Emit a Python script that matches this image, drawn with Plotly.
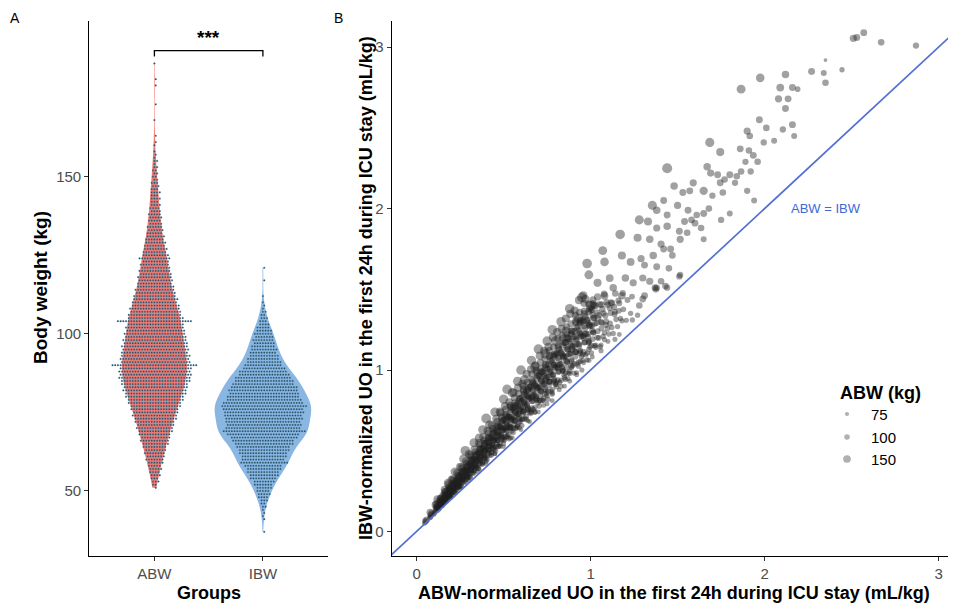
import math
import numpy as np
import plotly.graph_objects as go

# ---------------- Panel A data: body weight counts per 1-kg bin ----------------
abw_weight = list(range(51, 159)) + [160, 161, 163, 168, 173, 179, 181, 186]
abw_count = [
    1, 2, 3, 3, 4, 4, 5, 5, 6, 7,            # 51-60
    7, 8, 8, 9, 10, 11, 11, 12, 13, 14,      # 61-70
    14, 15, 16, 17, 17, 18, 19, 20, 21, 22,  # 71-80
    23, 24, 24, 25, 26, 27, 27, 27, 27, 32,  # 81-90
    26, 26, 26, 25, 25, 25, 24, 24, 23, 23,  # 91-100
    22, 22, 21, 28, 21, 20, 19, 19, 18, 17,  # 101-110
    17, 16, 15, 15, 14, 13, 13, 13, 12, 12,  # 111-120
    11, 11, 10, 12, 10, 9, 9, 8, 8, 7,       # 121-130
    7, 6, 6, 6, 5, 5, 5, 5, 4, 4,            # 131-140
    4, 3, 4, 3, 4, 3, 3, 3, 2, 2,            # 141-150
    2, 2, 2, 1, 2, 1, 1, 1,                  # 151-158
    1, 1, 1, 1, 1, 1, 1, 1,                  # tail
]
ibw_weight = [37] + list(range(41, 111)) + [112, 117, 121]
ibw_count = [
    1,
    1, 1, 1, 1, 2, 2, 3, 4, 5, 5,            # 41-50
    6, 7, 8, 10, 11, 12, 13, 14, 18, 16,     # 51-60
    17, 18, 19, 20, 22, 23, 25, 27, 31, 28,  # 61-70
    28, 28, 29, 29, 30, 30, 32, 30, 28, 27,  # 71-80
    26, 26, 25, 23, 22, 21, 19, 18, 16, 14,  # 81-90
    13, 12, 11, 10, 10, 9, 8, 8, 7, 7,       # 91-100
    6, 5, 4, 3, 3, 2, 2, 1, 1, 1,            # 101-110
    1, 1, 1,
]
groups = ["ABW", "IBW"]
bracket_y, bracket_low, signif = 190.1, 188.2, "***"

# ---------------- Panel B data: normalized urine output ----------------
band_x = [
    0.045, 0.052, 0.050, 0.058,
    0.075, 0.082, 0.080, 0.088, 0.078,
    0.105, 0.112, 0.110, 0.118, 0.108,
    0.130, 0.138, 0.135, 0.142, 0.128, 0.140,
    0.155, 0.162, 0.160, 0.168, 0.152, 0.165,
    0.180, 0.188, 0.185, 0.192, 0.178, 0.190, 0.183,
    0.205, 0.212, 0.210, 0.218, 0.200, 0.215, 0.208,
    0.230, 0.238, 0.235, 0.242, 0.228, 0.240, 0.233,
    0.255, 0.262, 0.260, 0.268, 0.252, 0.265, 0.258,
    0.280, 0.288, 0.285, 0.292, 0.278, 0.290, 0.283,
    0.305, 0.312, 0.310, 0.318, 0.302, 0.315, 0.308,
    0.330, 0.338, 0.335, 0.342, 0.328, 0.340, 0.333,
    0.355, 0.362, 0.360, 0.368, 0.352, 0.365, 0.358,
    0.380, 0.388, 0.385, 0.392, 0.378, 0.390, 0.383,
    0.405, 0.412, 0.410, 0.418, 0.402, 0.415, 0.408,
    0.430, 0.438, 0.435, 0.442, 0.428, 0.440, 0.433,
    0.455, 0.462, 0.460, 0.468, 0.452, 0.465, 0.458,
    0.480, 0.488, 0.485, 0.492, 0.478, 0.490, 0.483,
    0.505, 0.512, 0.510, 0.518, 0.502, 0.515, 0.508,
    0.530, 0.538, 0.535, 0.542, 0.528, 0.540, 0.533,
    0.555, 0.562, 0.560, 0.568, 0.552, 0.565, 0.558,
    0.580, 0.588, 0.585, 0.592, 0.578, 0.590, 0.583,
    0.605, 0.612, 0.610, 0.618, 0.602, 0.615, 0.608,
    0.630, 0.638, 0.635, 0.642, 0.628, 0.640, 0.633,
    0.655, 0.662, 0.660, 0.668, 0.652, 0.665, 0.658,
    0.680, 0.688, 0.685, 0.692, 0.678, 0.690, 0.683,
    0.705, 0.712, 0.710, 0.718, 0.702, 0.715, 0.708,
    0.730, 0.738, 0.735, 0.742, 0.728, 0.740, 0.733,
    0.755, 0.762, 0.760, 0.768, 0.752, 0.765, 0.758,
    0.780, 0.788, 0.785, 0.792, 0.778, 0.790, 0.783,
    0.805, 0.812, 0.810, 0.818, 0.802, 0.815, 0.808,
    0.830, 0.838, 0.835, 0.842, 0.828, 0.840, 0.833,
    0.855, 0.862, 0.860, 0.868, 0.852, 0.865, 0.858,
    0.880, 0.888, 0.885, 0.892, 0.878, 0.890, 0.883,
    0.905, 0.912, 0.910, 0.918, 0.902, 0.915, 0.908,
    0.930, 0.938, 0.935, 0.942, 0.928, 0.940, 0.933,
    0.955, 0.962, 0.960, 0.968, 0.952, 0.965, 0.958,
    0.980, 0.988, 0.985, 0.992, 0.978, 0.990,
    1.005, 1.012, 1.010, 1.018, 1.002, 1.015,
    1.030, 1.038, 1.035, 1.042, 1.028, 1.040,
    1.055, 1.062, 1.060, 1.068, 1.052,
    1.080, 1.088, 1.085, 1.092, 1.078,
    1.105, 1.112, 1.110, 1.118,
    1.130, 1.138, 1.135, 1.142,
    1.155, 1.162, 1.160,
    1.180, 1.188, 1.185,
    1.205, 1.212,
    1.230, 1.238,
]
band_y = [
    0.050, 0.060, 0.066, 0.072,
    0.085, 0.095, 0.104, 0.112, 0.118,
    0.120, 0.130, 0.142, 0.150, 0.165,
    0.145, 0.160, 0.172, 0.180, 0.190, 0.205,
    0.175, 0.190, 0.205, 0.215, 0.225, 0.245,
    0.200, 0.218, 0.232, 0.244, 0.255, 0.270, 0.290,
    0.228, 0.245, 0.262, 0.275, 0.285, 0.300, 0.325,
    0.255, 0.277, 0.290, 0.307, 0.318, 0.336, 0.362,
    0.281, 0.306, 0.323, 0.338, 0.352, 0.370, 0.398,
    0.309, 0.334, 0.352, 0.370, 0.380, 0.404, 0.433,
    0.336, 0.365, 0.382, 0.402, 0.415, 0.440, 0.472,
    0.364, 0.394, 0.413, 0.434, 0.448, 0.474, 0.508,
    0.390, 0.423, 0.444, 0.466, 0.481, 0.510, 0.548,
    0.418, 0.452, 0.476, 0.499, 0.515, 0.545, 0.583,
    0.446, 0.482, 0.506, 0.531, 0.548, 0.580, 0.623,
    0.473, 0.511, 0.537, 0.563, 0.582, 0.615, 0.658,
    0.500, 0.540, 0.568, 0.595, 0.615, 0.651, 0.698,
    0.528, 0.569, 0.599, 0.628, 0.649, 0.686, 0.735,
    0.567, 0.589, 0.638, 0.646, 0.692, 0.715, 0.777,
    0.574, 0.642, 0.649, 0.698, 0.706, 0.772, 0.801,
    0.613, 0.663, 0.688, 0.740, 0.765, 0.778, 0.861,
    0.649, 0.676, 0.731, 0.743, 0.792, 0.821, 0.891,
    0.656, 0.730, 0.742, 0.795, 0.805, 0.878, 0.915,
    0.695, 0.751, 0.781, 0.837, 0.865, 0.883, 0.975,
    0.730, 0.764, 0.824, 0.839, 0.893, 0.926, 1.005,
    0.738, 0.817, 0.835, 0.892, 0.906, 0.984, 1.029,
    0.777, 0.839, 0.874, 0.934, 0.966, 0.989, 1.089,
    0.812, 0.852, 0.917, 0.936, 0.993, 1.032, 1.119,
    0.819, 0.905, 0.928, 0.988, 1.007, 1.090, 1.143,
    0.859, 0.926, 0.967, 1.031, 1.066, 1.095, 1.203,
    0.896, 0.938, 1.012, 1.031, 1.096, 1.136, 1.235,
    0.899, 0.995, 1.019, 1.087, 1.105, 1.197, 1.255,
    0.942, 1.016, 1.058, 1.129, 1.169, 1.199, 1.319,
    0.978, 1.025, 1.105, 1.128, 1.196, 1.243, 1.348,
    0.981, 1.083, 1.112, 1.184, 1.206, 1.303, 1.369,
    1.024, 1.104, 1.151, 1.226, 1.269, 1.304, 1.433,
    1.059, 1.113, 1.198, 1.224, 1.297, 1.348, 1.463,
    1.063, 1.170, 1.205, 1.281, 1.306, 1.409,
    1.106, 1.192, 1.244, 1.323, 1.370, 1.410,
    1.141, 1.201, 1.291, 1.321, 1.398, 1.453,
    1.144, 1.258, 1.298, 1.377, 1.407,
    1.188, 1.279, 1.337, 1.420, 1.471,
    1.223, 1.289, 1.384, 1.418,
    1.226, 1.346, 1.391, 1.474,
    1.269, 1.367, 1.430,
    1.305, 1.376, 1.477,
    1.308, 1.434,
    1.351, 1.455,
]
band_kg = [
    70, 82, 90, 98,
    72, 80, 90, 96, 108,
    74, 82, 90, 95, 112,
    74, 82, 88, 93, 104, 110,
    76, 82, 90, 94, 106, 112,
    74, 82, 88, 92, 102, 106, 120,
    76, 82, 88, 92, 100, 104, 118,
    76, 82, 88, 92, 98, 104, 118,
    74, 82, 86, 92, 98, 104, 120,
    74, 82, 88, 92, 98, 106, 120,
    76, 82, 88, 92, 98, 106, 118,
    76, 84, 88, 94, 100, 106, 122,
    76, 82, 88, 92, 98, 106, 122,
    74, 82, 88, 94, 98, 104, 120,
    76, 82, 88, 92, 98, 106, 122,
    76, 84, 88, 94, 100, 106, 120,
    76, 82, 88, 92, 98, 106, 122,
    74, 82, 88, 94, 98, 104, 120,
    76, 82, 88, 92, 98, 106, 122,
    76, 84, 88, 94, 100, 106, 120,
    76, 82, 88, 92, 98, 106, 122,
    74, 82, 88, 94, 98, 104, 120,
    76, 82, 88, 92, 98, 106, 122,
    76, 84, 88, 94, 100, 106, 120,
    76, 82, 88, 92, 98, 106, 122,
    74, 82, 88, 94, 98, 104, 120,
    76, 82, 88, 92, 98, 106, 122,
    76, 84, 88, 94, 100, 106, 120,
    76, 82, 88, 92, 98, 106, 122,
    74, 82, 88, 94, 98, 104, 120,
    76, 82, 88, 92, 98, 106, 122,
    76, 84, 88, 94, 100, 106, 120,
    76, 82, 88, 92, 98, 106, 122,
    74, 82, 88, 94, 98, 104, 120,
    76, 82, 88, 92, 98, 106, 122,
    76, 84, 88, 94, 100, 106, 120,
    76, 82, 88, 92, 98, 106, 122,
    74, 82, 88, 94, 98, 104,
    76, 82, 88, 92, 98, 106,
    76, 84, 88, 94, 100, 106,
    76, 82, 88, 92, 98,
    74, 82, 88, 94, 98,
    76, 82, 88, 92,
    76, 84, 88, 94,
    76, 82, 88,
    74, 82, 88,
    76, 84,
    76, 82,
]
core_x = [
    0.122, 0.115, 0.124, 0.113, 0.120, 0.112,
    0.147, 0.140, 0.149, 0.138, 0.145, 0.137,
    0.172, 0.165, 0.174, 0.163, 0.170, 0.162,
    0.197, 0.190, 0.199, 0.188, 0.195, 0.187,
    0.222, 0.215, 0.224, 0.213, 0.220, 0.212,
    0.247, 0.240, 0.249, 0.238, 0.245, 0.237,
    0.272, 0.265, 0.274, 0.263, 0.270, 0.262,
    0.297, 0.290, 0.299, 0.288, 0.295, 0.287,
    0.322, 0.315, 0.324, 0.313, 0.320, 0.312,
    0.347, 0.340, 0.349, 0.338, 0.345, 0.337,
    0.372, 0.365, 0.374, 0.363, 0.370, 0.362,
    0.397, 0.390, 0.399, 0.388, 0.395, 0.387,
    0.422, 0.415, 0.424, 0.413, 0.420, 0.412,
    0.447, 0.440, 0.449, 0.438, 0.445, 0.437,
    0.472, 0.465, 0.474, 0.463, 0.470, 0.462,
    0.497, 0.490, 0.499, 0.488, 0.495, 0.487,
    0.522, 0.515, 0.524, 0.513, 0.520, 0.512,
    0.547, 0.540, 0.549, 0.538, 0.545, 0.537,
    0.572, 0.565, 0.574, 0.563, 0.570, 0.562,
    0.597, 0.590, 0.599, 0.588, 0.595, 0.587,
    0.622, 0.615, 0.624, 0.613, 0.620, 0.612,
    0.647, 0.640, 0.649, 0.638, 0.645, 0.637,
    0.672, 0.665, 0.674, 0.663, 0.670, 0.662,
    0.697, 0.690, 0.699, 0.688, 0.695, 0.687,
    0.722, 0.715, 0.724, 0.713, 0.720, 0.712,
    0.747, 0.740, 0.749, 0.738, 0.745, 0.737,
    0.772, 0.765, 0.774, 0.763, 0.770, 0.762,
    0.797, 0.790, 0.799, 0.788, 0.795, 0.787,
    0.822, 0.815, 0.824, 0.813, 0.820, 0.812,
    0.847, 0.840, 0.849, 0.838, 0.845, 0.837,
    0.872, 0.865, 0.874, 0.863, 0.870, 0.862,
    0.897, 0.890, 0.899, 0.888, 0.895, 0.887,
    0.922, 0.915, 0.924, 0.913, 0.920, 0.912,
    0.947, 0.940, 0.949, 0.938, 0.945, 0.937,
    0.972, 0.965, 0.974, 0.963, 0.970, 0.962,
    0.997, 0.990, 0.999, 0.988, 0.995,
    1.022, 1.015, 1.024, 1.013, 1.020,
    1.047, 1.040, 1.049, 1.038,
    1.072, 1.065, 1.074, 1.063,
    1.097, 1.090, 1.099,
    1.122, 1.115, 1.124,
    1.147, 1.140,
    1.172, 1.165,
]
core_y = [
    0.133, 0.143, 0.149, 0.155, 0.162, 0.172,
    0.164, 0.170, 0.184, 0.186, 0.199, 0.206,
    0.190, 0.203, 0.213, 0.221, 0.231, 0.245,
    0.222, 0.230, 0.248, 0.251, 0.268, 0.278,
    0.246, 0.264, 0.276, 0.287, 0.300, 0.318,
    0.279, 0.289, 0.312, 0.316, 0.338, 0.350,
    0.303, 0.324, 0.339, 0.352, 0.369, 0.391,
    0.337, 0.349, 0.377, 0.381, 0.407, 0.422,
    0.359, 0.385, 0.402, 0.418, 0.437, 0.464,
    0.394, 0.408, 0.441, 0.446, 0.477, 0.494,
    0.416, 0.445, 0.466, 0.484, 0.506, 0.537,
    0.452, 0.468, 0.505, 0.511, 0.546, 0.566,
    0.472, 0.506, 0.529, 0.550, 0.575, 0.610,
    0.509, 0.527, 0.569, 0.576, 0.616, 0.638,
    0.529, 0.566, 0.592, 0.615, 0.644, 0.683,
    0.567, 0.587, 0.634, 0.641, 0.685, 0.710,
    0.585, 0.627, 0.655, 0.681, 0.712, 0.756,
    0.624, 0.646, 0.698, 0.706, 0.755, 0.782,
    0.642, 0.687, 0.719, 0.747, 0.781, 0.829,
    0.682, 0.706, 0.762, 0.771, 0.824, 0.854,
    0.698, 0.748, 0.782, 0.813, 0.850, 0.902,
    0.739, 0.765, 0.826, 0.836, 0.894, 0.926,
    0.755, 0.808, 0.845, 0.878, 0.919, 0.975,
    0.797, 0.825, 0.891, 0.901, 0.963, 0.998,
    0.811, 0.869, 0.908, 0.944, 0.987, 1.048,
    0.854, 0.884, 0.955, 0.966, 1.033, 1.070,
    0.868, 0.929, 0.972, 1.010, 1.056, 1.121,
    0.912, 0.944, 1.019, 1.031, 1.102, 1.142,
    0.924, 0.990, 1.035, 1.076, 1.125, 1.194,
    0.969, 1.003, 1.083, 1.096, 1.172, 1.214,
    0.981, 1.050, 1.098, 1.141, 1.194, 1.267,
    1.027, 1.063, 1.148, 1.161, 1.241, 1.286,
    1.037, 1.111, 1.161, 1.207, 1.262, 1.340,
    1.084, 1.122, 1.212, 1.226, 1.311, 1.358,
    1.094, 1.171, 1.225, 1.273, 1.331, 1.413,
    1.142, 1.182, 1.276, 1.291, 1.380,
    1.150, 1.232, 1.288, 1.339, 1.400,
    1.199, 1.241, 1.340, 1.356,
    1.207, 1.292, 1.351, 1.404,
    1.257, 1.301, 1.405,
    1.263, 1.353, 1.414,
    1.314, 1.360,
    1.320, 1.413,
]
core_kg = (
    [78, 85, 90, 94, 98, 104, 80, 84, 91, 92, 99, 102] * 17
    + [78, 85, 90, 94, 98, 104]
    + [80, 84, 91, 92, 99, 78, 85, 90, 94, 98]
    + [80, 84, 91, 92, 78, 85, 90, 94]
    + [80, 84, 91, 78, 85, 90]
    + [80, 84, 78, 85]
)
dense_x = [
    0.130, 0.141, 0.134, 0.143, 0.132, 0.139,
    0.155, 0.166, 0.159, 0.168, 0.157, 0.164,
    0.180, 0.191, 0.184, 0.193, 0.182, 0.189,
    0.205, 0.216, 0.209, 0.218, 0.207, 0.214,
    0.230, 0.241, 0.234, 0.243, 0.232, 0.239,
    0.255, 0.266, 0.259, 0.268, 0.257, 0.264,
    0.280, 0.291, 0.284, 0.293, 0.282, 0.289,
    0.305, 0.316, 0.309, 0.318, 0.307, 0.314,
    0.330, 0.341, 0.334, 0.343, 0.332, 0.339,
    0.355, 0.366, 0.359, 0.368, 0.357, 0.364,
    0.380, 0.391, 0.384, 0.393, 0.382, 0.389,
    0.405, 0.416, 0.409, 0.418, 0.407, 0.414,
    0.430, 0.441, 0.434, 0.443, 0.432, 0.439,
    0.455, 0.466, 0.459, 0.468, 0.457, 0.464,
    0.480, 0.491, 0.484, 0.493, 0.482, 0.489,
    0.505, 0.516, 0.509, 0.518, 0.507, 0.514,
    0.530, 0.541, 0.534, 0.543, 0.532, 0.539,
    0.555, 0.566, 0.559, 0.568, 0.557, 0.564,
    0.580, 0.591, 0.584, 0.593, 0.582, 0.589,
    0.605, 0.616, 0.609, 0.618, 0.607, 0.614,
    0.630, 0.641, 0.634, 0.643, 0.632, 0.639,
    0.655, 0.666, 0.659, 0.668, 0.657, 0.664,
    0.680, 0.691, 0.684, 0.693, 0.682, 0.689,
    0.705, 0.716, 0.709, 0.718, 0.707, 0.714,
    0.730, 0.741, 0.734, 0.743, 0.732, 0.739,
    0.755, 0.766, 0.759, 0.768, 0.757, 0.764,
    0.780, 0.791, 0.784, 0.793, 0.782, 0.789,
    0.805, 0.816, 0.809, 0.818, 0.807, 0.814,
    0.830, 0.841, 0.834, 0.843, 0.832, 0.839,
    0.855, 0.866, 0.859, 0.868, 0.857, 0.864,
    0.880, 0.891, 0.884, 0.893, 0.882, 0.889,
    0.905, 0.916, 0.909, 0.918, 0.907, 0.914,
    0.930, 0.941, 0.934, 0.943, 0.932, 0.939,
    0.955, 0.966, 0.959, 0.968, 0.957, 0.964,
    0.980, 0.991, 0.984, 0.993, 0.982, 0.989,
    1.005, 1.016, 1.009, 1.018, 1.007, 1.014,
]
dense_y = [
    0.152, 0.162, 0.169, 0.175, 0.181, 0.188,
    0.184, 0.196, 0.203, 0.211, 0.219, 0.229,
    0.208, 0.221, 0.231, 0.240, 0.247, 0.257,
    0.241, 0.257, 0.266, 0.276, 0.287, 0.300,
    0.264, 0.281, 0.293, 0.304, 0.314, 0.326,
    0.298, 0.318, 0.329, 0.342, 0.355, 0.371,
    0.320, 0.340, 0.355, 0.369, 0.380, 0.395,
    0.355, 0.379, 0.392, 0.407, 0.423, 0.442,
    0.376, 0.400, 0.417, 0.433, 0.447, 0.464,
    0.412, 0.440, 0.455, 0.473, 0.491, 0.513,
    0.432, 0.459, 0.479, 0.498, 0.513, 0.533,
    0.469, 0.501, 0.518, 0.538, 0.559, 0.584,
    0.488, 0.519, 0.541, 0.562, 0.580, 0.602,
    0.526, 0.562, 0.581, 0.604, 0.627, 0.655,
    0.544, 0.578, 0.603, 0.627, 0.646, 0.671,
    0.583, 0.623, 0.644, 0.669, 0.695, 0.726,
    0.600, 0.638, 0.665, 0.691, 0.713, 0.740,
    0.640, 0.684, 0.707, 0.735, 0.763, 0.797,
    0.656, 0.697, 0.727, 0.756, 0.779, 0.809,
    0.697, 0.745, 0.770, 0.800, 0.831, 0.868,
    0.712, 0.757, 0.789, 0.820, 0.846, 0.878,
    0.754, 0.806, 0.833, 0.866, 0.899, 0.939,
    0.768, 0.816, 0.851, 0.885, 0.912, 0.947,
    0.811, 0.867, 0.896, 0.931, 0.967, 1.010,
    0.824, 0.876, 0.913, 0.949, 0.979, 1.016,
    0.868, 0.928, 0.959, 0.997, 1.035, 1.081,
    0.880, 0.935, 0.975, 1.014, 1.045, 1.085,
    0.925, 0.989, 1.022, 1.062, 1.103, 1.152,
    0.936, 0.995, 1.037, 1.078, 1.112, 1.154,
    0.982, 1.050, 1.085, 1.128, 1.171, 1.223,
    0.992, 1.054, 1.099, 1.143, 1.178, 1.223,
    1.039, 1.111, 1.148, 1.193, 1.239, 1.294,
    1.048, 1.114, 1.161, 1.207, 1.245, 1.292,
    1.096, 1.172, 1.211, 1.259, 1.307, 1.365,
    1.104, 1.173, 1.223, 1.272, 1.311, 1.361,
    1.153, 1.233, 1.274, 1.324, 1.375, 1.436,
]
dense_kg = [78, 84, 88, 92, 96, 100, 80, 86, 89, 93, 98, 102] * 18
low_x = [0.08, 0.10, 0.13, 0.15, 0.17, 0.19, 0.22, 0.24, 0.26, 0.29, 0.31, 0.33, 0.36, 0.38, 0.40,
         0.43, 0.45, 0.47, 0.50, 0.52, 0.54, 0.57, 0.59, 0.61, 0.64, 0.66, 0.68, 0.71, 0.73, 0.75,
         0.78, 0.80, 0.82, 0.85, 0.87, 0.89, 0.92, 0.94, 0.96, 0.99, 1.01, 1.03, 1.06, 1.08, 1.10]
low_y = [0.086, 0.112, 0.142, 0.171, 0.182, 0.213, 0.240, 0.274, 0.278, 0.325, 0.338, 0.376, 0.385,
         0.426, 0.436, 0.490, 0.482, 0.526, 0.545, 0.593, 0.578, 0.638, 0.643, 0.695, 0.685, 0.739,
         0.741, 0.809, 0.781, 0.840, 0.850, 0.912, 0.877, 0.952, 0.948, 1.015, 0.984, 1.053, 1.046,
         1.129, 1.081, 1.154, 1.155, 1.231, 1.177]
low_kg = [70, 76, 72, 78] * 11 + [70]
edge_x = [0.16, 0.20, 0.25, 0.30, 0.36, 0.42, 0.48, 0.55, 0.62, 0.68, 0.74, 0.80, 0.86, 0.93, 1.00,
          0.12, 0.18, 0.22, 0.27, 0.28, 0.33, 0.38, 0.40, 0.45, 0.50, 0.52, 0.58, 0.60, 0.66, 0.70,
          0.75, 0.78, 0.83, 0.88, 0.95,
          0.25, 0.35, 0.45, 0.55, 0.65, 0.70, 0.78, 0.85, 0.92, 0.99, 1.06, 1.14, 1.165, 1.24, 1.27,
          0.10, 0.15, 0.20, 0.30, 0.40, 0.50, 0.60, 0.75, 0.88, 0.95,
          1.31, 1.37, 1.43, 1.51, 1.28, 1.30, 1.34, 1.375]
edge_y = [0.26, 0.32, 0.40, 0.48, 0.58, 0.66, 0.74, 0.86, 0.94, 1.02, 1.10, 1.18, 1.24, 1.32, 1.40,
          0.20, 0.30, 0.37, 0.45, 0.50, 0.55, 0.63, 0.70, 0.74, 0.82, 0.88, 0.93, 1.00, 1.06, 1.13,
          1.18, 1.25, 1.30, 1.38, 1.45,
          0.27, 0.37, 0.48, 0.58, 0.68, 0.74, 0.81, 0.90, 0.97, 1.06, 1.12, 1.19, 1.22, 1.31, 1.34,
          0.105, 0.16, 0.21, 0.315, 0.42, 0.525, 0.63, 0.79, 0.93, 1.00,
          1.46, 1.51, 1.52, 1.58, 1.40, 1.44, 1.55, 1.50]
edge_kg = [108, 115, 120, 125, 135, 140, 138, 142, 145, 148, 150, 155, 150, 152, 155,
           120, 125, 130, 135, 150, 140, 140, 155, 140, 145, 150, 140, 150, 145, 150,
           145, 150, 145, 150, 150,
           64, 65, 66, 68, 66, 68, 70, 70, 70, 75, 72, 72, 70, 75, 76,
           62, 64, 64, 65, 66, 66, 66, 68, 70, 72,
           100, 98, 95, 92, 95, 98, 105, 96]
upper_x = [2.51, 2.53, 2.57, 2.67, 2.87,
           1.975, 2.12, 2.27, 2.34, 2.35, 2.445, 2.35,
           1.865, 2.09, 2.16, 2.19, 2.08, 2.135, 2.12,
           1.97, 2.01, 1.90, 2.105, 2.16, 2.17, 1.915, 1.995, 2.055,
           1.685, 1.745, 1.86, 1.91, 1.935, 1.96, 1.89, 1.865, 1.92,
           1.67, 1.69, 1.73, 1.77, 1.80, 1.84, 1.83, 1.90, 1.94,
           1.745, 1.76, 1.70, 1.65, 1.59, 1.48, 1.44, 1.53, 1.57,
           1.42, 1.355, 1.38, 1.44, 1.50, 1.56, 1.61, 1.65, 1.68, 1.75, 1.80,
           1.28, 1.33, 1.38, 1.44, 1.54, 1.58, 1.60, 1.635, 1.51, 1.555, 1.65,
           1.17, 1.27, 1.34, 1.405, 1.42, 1.46, 1.47, 1.515,
           1.07, 1.18, 1.23, 1.29, 1.31, 1.36, 1.38, 1.45, 1.515,
           0.98, 1.08, 1.11, 1.20, 1.245, 1.30, 1.405, 1.44, 1.38,
           0.99, 1.04, 1.13, 0.97, 1.08, 1.18]
upper_y = [3.055, 3.06, 3.09, 3.03, 3.01,
           2.81, 2.83, 2.85, 2.84, 2.78, 2.86, 2.92,
           2.74, 2.75, 2.75, 2.74, 2.68, 2.68, 2.62,
           2.55, 2.50, 2.48, 2.49, 2.52, 2.45, 2.45, 2.41, 2.42,
           2.41, 2.35, 2.37, 2.36, 2.33, 2.29, 2.29, 2.23, 2.23,
           2.26, 2.22, 2.21, 2.18, 2.21, 2.20, 2.16, 2.11, 2.05,
           2.16, 2.10, 2.08, 2.11, 2.16, 2.14, 2.25, 2.10, 2.11,
           2.05, 2.02, 1.99, 1.96, 2.02, 1.99, 1.96, 1.97, 2.00, 1.93, 1.97,
           1.93, 1.92, 1.88, 1.89, 1.92, 1.93, 1.91, 1.88, 1.86, 1.85, 1.81,
           1.84, 1.82, 1.81, 1.78, 1.75, 1.75, 1.71, 1.81,
           1.74, 1.71, 1.67, 1.69, 1.65, 1.71, 1.64, 1.63, 1.59,
           1.66, 1.67, 1.57, 1.57, 1.54, 1.57, 1.55, 1.51, 1.51,
           1.59, 1.54, 1.51, 1.44, 1.46, 1.46]
upper_kg = [105, 100, 100, 95, 90,
            130, 110, 100, 85, 95, 75, 55,
            135, 115, 100, 80, 105, 100, 100,
            100, 95, 105, 90, 100, 85, 95, 90, 85,
            140, 120, 100, 95, 100, 95, 90, 95, 90,
            110, 105, 100, 95, 100, 95, 90, 90, 85,
            100, 95, 90, 125, 105, 110, 160, 100, 100,
            100, 140, 110, 100, 105, 100, 95, 100, 95, 90, 85,
            140, 120, 105, 110, 100, 95, 100, 95, 100, 95, 85,
            150, 120, 110, 105, 100, 100, 95, 105,
            135, 120, 115, 105, 100, 110, 100, 95, 90,
            150, 130, 115, 110, 105, 105, 95, 90, 95,
            135, 120, 110, 125, 115, 110]
identity_range = [-0.3, 3.3]
legend_breaks = [75, 100, 150]

uo_abw = band_x + core_x + dense_x + low_x + edge_x + upper_x
uo_ibw = band_y + core_y + dense_y + low_y + edge_y + upper_y
abw_kg = band_kg + core_kg + dense_kg + low_kg + edge_kg + upper_kg

# ---------------- helpers ----------------
# The page body keeps its default 8px margin, so the figure is drawn 8px in.
OFF = 8
W, H = 956 - OFF, 603 - OFF
FONT = "Liberation Sans, Arial, Helvetica, sans-serif"


def px(xp):
    return (xp - OFF) / W


def py(yp):
    return 1 - (yp - OFF) / H


def dot_size(kg):
    return 5.3 + 1.2 * (math.sqrt(kg) - math.sqrt(75))


def swarm(cat, weights, counts, sp):
    xs, ys = [], []
    for w, n in zip(weights, counts):
        off = 0.5 * sp if w % 2 else 0.0
        for j in range(n):
            xs.append(cat + (j - (n - 1) / 2) * sp + off)
            ys.append(w)
    return xs, ys


fig = go.Figure()

# Violins
abw_vals = np.repeat(abw_weight, abw_count)
ibw_vals = np.repeat(ibw_weight, ibw_count)
for pos, vals, col, wid, bw in [(1, abw_vals, "#F2786F", 0.60, 3.8), (2, ibw_vals, "#8AB6E2", 0.89, 2.4)]:
    fig.add_trace(go.Violin(
        x=np.full(len(vals), float(pos)), y=vals, width=wid, scalemode="width", bandwidth=bw,
        spanmode="hard", fillcolor=col, line=dict(color="rgba(0,0,0,0)", width=0),
        points=False, hoverinfo="skip", showlegend=False, xaxis="x", yaxis="y"))

# Beeswarm dots
sp = 0.0249
for pos, wts, cnts in [(1, abw_weight, abw_count), (2, ibw_weight, ibw_count)]:
    xs, ys = swarm(pos, wts, cnts, sp)
    fig.add_trace(go.Scatter(
        x=xs, y=ys, mode="markers", xaxis="x", yaxis="y", showlegend=False, hoverinfo="skip",
        marker=dict(size=1.7, color="#2F3A40", line=dict(color="#4E95BF", width=0.4))))

# Significance bracket
fig.add_trace(go.Scatter(
    x=[1, 1, 2, 2], y=[bracket_low, bracket_y, bracket_y, bracket_low], mode="lines",
    line=dict(color="black", width=1.3), xaxis="x", yaxis="y", showlegend=False, hoverinfo="skip"))

# Panel B scatter
fig.add_trace(go.Scatter(
    x=uo_abw, y=uo_ibw, mode="markers", xaxis="x2", yaxis="y2", showlegend=False,
    marker=dict(size=[dot_size(k) for k in abw_kg], color="rgba(30,30,30,0.6)", line=dict(width=0))))
fig.add_trace(go.Scatter(
    x=identity_range, y=identity_range, mode="lines", xaxis="x2", yaxis="y2", showlegend=False,
    line=dict(color="#5470D0", width=1.7), hoverinfo="skip"))

# Size legend (drawn in a pixel-space overlay axis)
leg_rows = [414, 437, 459]
fig.add_trace(go.Scatter(
    x=[847] * 3, y=leg_rows, mode="markers", xaxis="x3", yaxis="y3", showlegend=False,
    marker=dict(size=[dot_size(k) * 0.8 for k in legend_breaks], color="rgba(30,30,30,0.5)",
                line=dict(width=0)),
    hoverinfo="skip"))

axis_common = dict(showline=True, linecolor="black", linewidth=1.2, ticks="outside", ticklen=4,
                   tickwidth=1.1, tickcolor="#333333", showgrid=False, zeroline=False,
                   tickfont=dict(size=15, color="#4D4D4D", family=FONT), fixedrange=True)
ydom = [py(556), py(20.7)]


def note(text, x, y, size, xanchor="center", angle=0, color="black", xref="paper", yref="paper"):
    return dict(text=text, x=x, y=y, xref=xref, yref=yref, xanchor=xanchor, yanchor="middle",
                textangle=angle, showarrow=False, font=dict(size=size, color=color, family=FONT))


annotations = [
    note("A", px(15), py(18), 14),
    note("B", px(338), py(18), 14),
    note("<b>" + signif + "</b>", 1.5, 194.3, 19, xref="x", yref="y"),
    note("<b>Body weight (kg)</b>", px(40), py(288), 19, angle=-90),
    note("<b>Groups</b>", px(208.5), py(593), 18),
    note("<b>ABW-normalized UO in the first 24h during ICU stay (mL/kg)</b>", px(674), py(593), 18),
    note("<b>IBW-normalized UO in the first 24h during ICU stay (mL/kg)</b>", px(366), py(288), 18,
         angle=-90),
    note("ABW = IBW", 2.35, 2.0, 13, color="#3E68D8", xref="x2", yref="y2"),
    note("<b>ABW (kg)</b>", px(838), py(393), 18, xanchor="left"),
]
for k, r in zip(legend_breaks, leg_rows):
    annotations.append(note(str(k), px(869), py(r), 15, xanchor="left"))

fig.update_layout(
    width=W, height=H, autosize=False, template="none",
    margin=dict(l=0, r=0, t=0, b=0),
    paper_bgcolor="white", plot_bgcolor="rgba(0,0,0,0)",
    violinmode="overlay", showlegend=False,
    font=dict(family=FONT),
    xaxis=dict(domain=[px(89.3), px(328)], range=[0.4, 2.6], tickvals=[1, 2], ticktext=groups,
               anchor="y", **axis_common),
    yaxis=dict(domain=ydom, range=[29.3, 199.6], tickvals=[50, 100, 150], anchor="x", **axis_common),
    xaxis2=dict(domain=[px(391.7), 1.0], range=[-0.143, 3.10], tickvals=[0, 1, 2, 3],
                anchor="y2", **axis_common),
    yaxis2=dict(domain=ydom, range=[-0.152, 3.164], tickvals=[0, 1, 2, 3], anchor="x2", **axis_common),
    xaxis3=dict(domain=[px(820), 1.0], range=[820, 956], visible=False, anchor="y3", fixedrange=True),
    yaxis3=dict(domain=[py(480), py(380)], range=[480, 380], visible=False, anchor="x3", fixedrange=True),
    annotations=annotations,
)

fig.write_html("out.html")
